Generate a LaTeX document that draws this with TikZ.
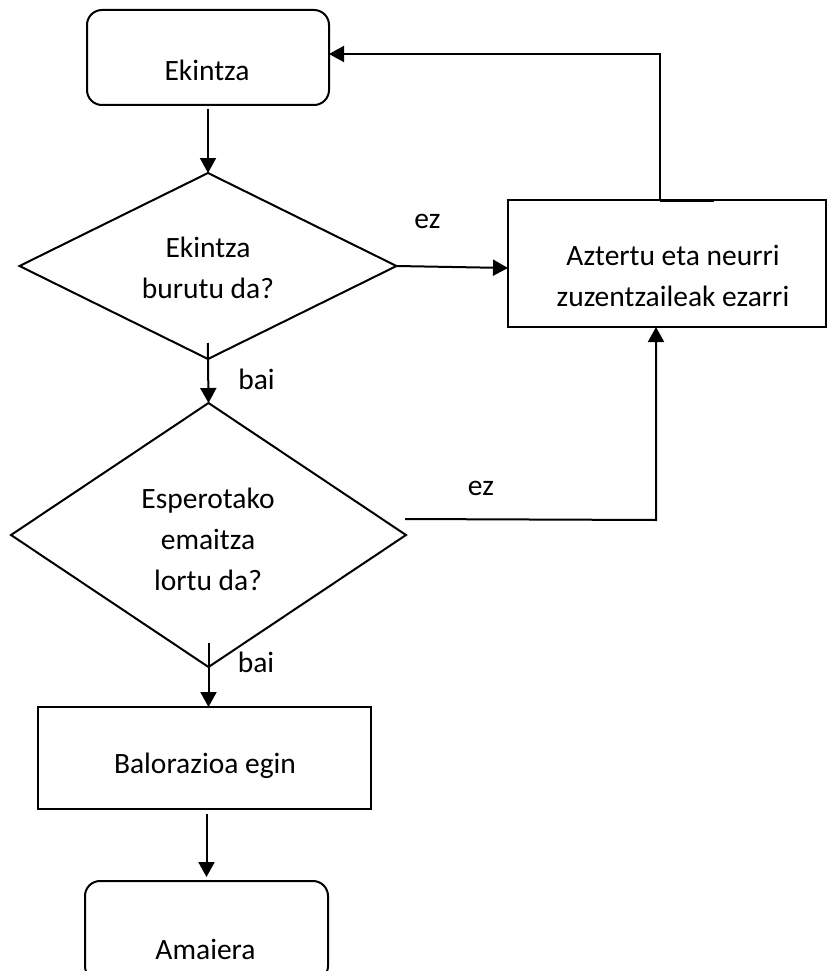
\documentclass[tikz,border=0pt]{standalone}
\usepackage{fontspec}
\setmainfont{Carlito}
\usetikzlibrary{arrows.meta,shapes.geometric,calc}
\begin{document}
\begin{tikzpicture}[x=1pt,y=-1pt,
  every node/.style={outer sep=0pt,inner sep=0pt},
  line/.style={line width=2pt,draw=black},
  arr/.style={line,-{Triangle[length=15pt,width=16pt]}},
  roundbox/.style={line,rounded corners=15pt,rectangle},
  plainbox/.style={line,rectangle},
  decision/.style={line,diamond},
  txt/.style={align=center,font=\fontsize{29.5pt}{41pt}\selectfont},
  lbl/.style={font=\fontsize{29.5pt}{41pt}\selectfont}]
\useasboundingbox (0,0) rectangle (828,971);
\clip (0,0) rectangle (828,971);
% boxes
\node[roundbox,minimum width=242pt,minimum height=95pt] (e) at (208,57.5) {};
\node[txt] (et) at (207,70) {Ekintza};
\node[decision,minimum width=377pt,minimum height=186pt] (d1) at (208,266) {};
\node[txt] (d1t) at (208,268) {Ekintza\\burutu da?};
\node[plainbox,minimum width=318pt,minimum height=127pt] (az) at (667,263.5) {};
\node[txt] (azt) at (673,276) {Aztertu eta neurri\\zuzentzaileak ezarri};
\node[decision,minimum width=395pt,minimum height=264pt] (d2) at (208.5,535) {};
\node[txt] (d2t) at (208,539) {Esperotako\\emaitza\\lortu da?};
\node[plainbox,minimum width=333pt,minimum height=102pt] (b) at (204.5,758) {};
\node[txt] (bt) at (205,765.5) {Balorazioa egin};
\node[roundbox,minimum width=243pt,minimum height=100pt] (am) at (206.5,931) {};
\node[txt] (amt) at (205.5,949) {Amaiera};
% labels
\node[lbl] (ez1) at (427.5,221) {ez};
\node[lbl] (ez2) at (481,488) {ez};
\node[lbl] (bai1) at (256.5,379) {bai};
\node[lbl] (bai2) at (256,662) {bai};
% connectors
\draw[arr,shorten <=4pt] (e.south) -- (d1.north);
\draw[arr,shorten <=-16pt] (d1.south) -- (d2.north);
\draw[arr,shorten <=-24pt] (d2.south) -- (b.north -| d2.south);
\draw[arr,shorten <=5pt,shorten >=4pt] (b.south -| am.north) -- (am.north);
\draw[arr] (d1.east) -- ($(az.west)+(0,4.5)$);
\coordinate (fb) at (660,54);
\draw[arr] (az.north -| fb) -- (fb) -- (fb -| e.east);
\draw[line width=3pt] (az.north -| fb) -- +(54,0);
\coordinate (c2) at (656,520);
\draw[arr] ($(d2.east)+(-1,-16)$) -- (c2) -- (c2 |- az.south);
\end{tikzpicture}
\end{document}
